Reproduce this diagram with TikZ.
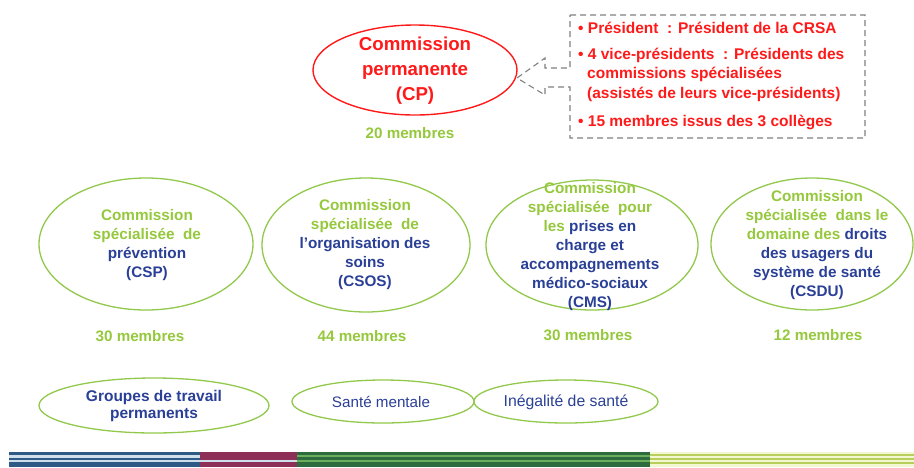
\documentclass[tikz,border=0pt]{standalone}
\usepackage{fontspec}
\setmainfont{Liberation Sans}[Ligatures=ResetAll]
\usetikzlibrary{shapes.geometric}
\definecolor{cpred}{HTML}{FF1A1A}
\definecolor{txtgreen}{HTML}{95C83C}
\definecolor{ellgreen}{HTML}{92C84B}
\definecolor{txtblue}{HTML}{2A3F96}
\definecolor{boxgray}{HTML}{808080}
\definecolor{stblue}{HTML}{2F5A86}
\definecolor{stlight}{HTML}{CFE0EA}
\definecolor{stmaroon}{HTML}{8E2F58}
\definecolor{stdkgreen}{HTML}{2D6A3D}
\definecolor{stgreen}{HTML}{6BAE5B}
\definecolor{stpale}{HTML}{F4F8D2}
\definecolor{stolive}{HTML}{B8CF5E}
\begin{document}
\begin{tikzpicture}[x=1pt,y=-1pt,
  greenell/.style={draw=ellgreen, line width=1.3pt, ellipse, inner sep=0pt},
  lbl/.style={font=\bfseries\fontsize{15.3}{19}\selectfont, align=center, inner sep=0pt},
  membres/.style={font=\bfseries\fontsize{15.2}{17}\selectfont, text=txtgreen, inner sep=0pt},
  bullet/.style={font=\bfseries\fontsize{15.5}{19.5}\selectfont, text=cpred, align=left, inner sep=0pt, anchor=north west},
  smalllbl/.style={font=\fontsize{15.2}{17}\selectfont, text=txtblue, align=center, inner sep=0pt},
  callout/.style={draw=boxgray, line width=1.1pt, dash pattern=on 6pt off 4pt}
]
\useasboundingbox (0,0) rectangle (914,467);

% Commission permanente
\node[ellipse, draw=cpred, line width=1.4pt, minimum width=204pt, minimum height=90pt, inner sep=0pt] (cp) at (415,70) {};
\node[font=\bfseries\fontsize{18.7}{25}\selectfont, text=cpred, align=center, inner sep=0pt] (cptext) at (415,71) {Commission\\permanente\\(CP)};
\node[membres] (m0) at (410,133) {20 membres};

% callout box
\coordinate (tip) at (517,78);
\draw[callout] (570,15) -- (865,15) -- (865,138) -- (570,138) -- (570,87) -- (545,87) -- (545,95) -- (tip) -- (545,58) -- (545,68) -- (570,68) -- cycle;
\node[bullet] (b1) at (578,22) {•\ Président\ \ : Président de la CRSA};
\node[bullet] (b2) at (578,47.5) {•\ 4 vice-présidents\ \ : Présidents des\\\hspace{9pt}commissions spécialisées\\\hspace{9pt}(assistés de leurs vice-présidents)};
\node[bullet] (b3) at (578,114.5) {•\ 15 membres issus des 3 collèges};

% commissions spécialisées
\node[greenell, minimum width=214pt, minimum height=132pt] (csp) at (146,244) {};
\node[lbl] (csptext) at (147,245) {\textcolor{txtgreen}{Commission}\\\textcolor{txtgreen}{spécialisée\ \ de}\\\textcolor{txtblue}{prévention}\\\textcolor{txtblue}{(CSP)}};
\node[membres] (m1) at (140,336) {30 membres};

\node[greenell, minimum width=208pt, minimum height=134pt] (csos) at (366,245) {};
\node[lbl] (csostext) at (365,245) {\textcolor{txtgreen}{Commission}\\\textcolor{txtgreen}{spécialisée\ \ de}\\\textcolor{txtblue}{l'organisation des}\\\textcolor{txtblue}{soins}\\\textcolor{txtblue}{(CSOS)}};
\node[membres] (m2) at (362,336) {44 membres};

\node[greenell, minimum width=212pt, minimum height=130pt] (cms) at (592,245) {};
\node[lbl] (cmstext) at (590,246.5) {\textcolor{txtgreen}{Commission}\\\textcolor{txtgreen}{spécialisée\ \ pour}\\\textcolor{txtgreen}{les} \textcolor{txtblue}{prises en}\\\textcolor{txtblue}{charge et}\\\textcolor{txtblue}{accompagnements}\\\textcolor{txtblue}{médico-sociaux}\\\textcolor{txtblue}{(CMS)}};
\node[membres] (m3) at (588,335) {30 membres};

\node[greenell, minimum width=202pt, minimum height=132pt] (csdu) at (812,244) {};
\node[lbl] (csdutext) at (817,245.5) {\textcolor{txtgreen}{Commission}\\\textcolor{txtgreen}{spécialisée\ \ dans le}\\\textcolor{txtgreen}{domaine des} \textcolor{txtblue}{droits}\\\textcolor{txtblue}{des usagers du}\\\textcolor{txtblue}{système de santé}\\\textcolor{txtblue}{(CSDU)}};
\node[membres] (m4) at (818,335) {12 membres};

% groupes de travail
\node[greenell, minimum width=230pt, minimum height=55pt] (gt) at (154,405.5) {};
\node[smalllbl, font=\bfseries\fontsize{15.5}{17}\selectfont] (gttext) at (154,406) {Groupes de travail\\permanents};
\node[greenell, minimum width=182pt, minimum height=43pt] (sm) at (383,401.5) {};
\node[smalllbl] (smtext) at (381,402) {Santé mentale};
\node[greenell, minimum width=184pt, minimum height=43pt] (is) at (566,401.5) {};
\node[smalllbl, font=\fontsize{15.8}{17}\selectfont] (istext) at (566,402) {Inégalité de santé};

% bottom stripes
\fill[stblue] (9,452) rectangle (200,467);
\fill[stlight] (9,454.5) rectangle (200,457.5);
\fill[stlight] (9,459.5) rectangle (297,462);
\fill[stmaroon] (200,452) rectangle (297,459.5);
\fill[stmaroon] (200,462) rectangle (297,467);
\fill[stdkgreen] (297,452) rectangle (650,467);
\fill[stgreen] (297,454.5) rectangle (650,457);
\fill[stgreen] (297,459.5) rectangle (650,462);
\fill[stpale] (650,452) rectangle (914,467);
\fill[stolive] (650,453.5) rectangle (914,455.5);
\fill[stolive] (650,457.5) rectangle (914,459.5);
\fill[stolive] (650,461.5) rectangle (914,463.5);
\end{tikzpicture}
\end{document}
